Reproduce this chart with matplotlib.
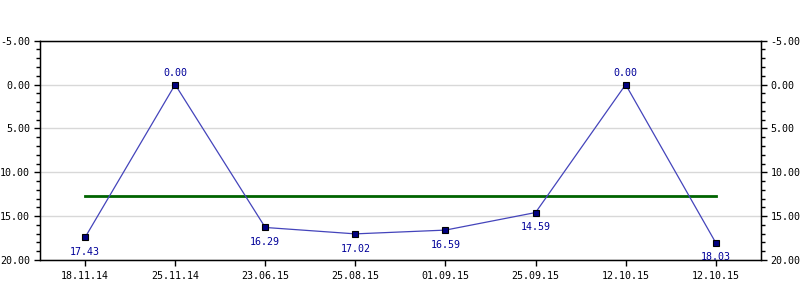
import matplotlib
matplotlib.use("Agg")
import matplotlib.pyplot as plt
from matplotlib.ticker import MultipleLocator, FormatStrFormatter

# data
dates = ["18.11.14", "25.11.14", "23.06.15", "25.08.15",
         "01.09.15", "25.09.15", "12.10.15", "12.10.15"]
values = [17.43, 0.00, 16.29, 17.02, 16.59, 14.59, 0.00, 18.03]
avg_level = 12.7

plt.rcParams['axes.unicode_minus'] = False
plt.rcParams['font.family'] = 'DejaVu Sans Mono'
plt.rcParams['font.size'] = 7.2

fig = plt.figure(figsize=(8, 3), dpi=100)
ax = fig.add_axes([0.05, 0.1333, 0.901, 0.731])

x = list(range(len(values)))
ax.plot(x, values, color='#4444bb', linewidth=0.9, zorder=3)
ax.plot(x, values, linestyle='none', marker='s', markersize=4.5,
        markerfacecolor='#000080', markeredgecolor='black',
        markeredgewidth=0.8, zorder=4)
ax.plot([x[0], x[-1]], [avg_level, avg_level], color='#006400',
        linewidth=2, zorder=2)

for xi, v in zip(x, values):
    if v == 0:
        ax.annotate(f"{v:.2f}", (xi, v), xytext=(0, 5), textcoords='offset points',
                    ha='center', va='bottom', color='#000099')
    else:
        ax.annotate(f"{v:.2f}", (xi, v), xytext=(0, -7), textcoords='offset points',
                    ha='center', va='top', color='#000099')

ax.set_xlim(-0.5, len(values) - 0.5)
ax.set_ylim(20, -5)
ax.set_xticks(x)
ax.set_xticklabels(dates)
ax.yaxis.set_major_locator(MultipleLocator(5))
ax.yaxis.set_minor_locator(MultipleLocator(1))
ax.yaxis.set_major_formatter(FormatStrFormatter('%.2f'))
ax.grid(axis='y', color='#d8d8d8', linewidth=1)
ax.set_axisbelow(True)
ax.tick_params(axis='x', which='major', length=4, width=1, pad=4)
ax.tick_params(axis='y', which='major', length=4, width=1, pad=3)
ax.tick_params(axis='y', which='minor', length=3, width=1)
for s in ax.spines.values():
    s.set_linewidth(1)

ax2 = ax.twinx()
ax2.set_ylim(20, -5)
ax2.yaxis.set_major_locator(MultipleLocator(5))
ax2.yaxis.set_minor_locator(MultipleLocator(1))
ax2.yaxis.set_major_formatter(FormatStrFormatter('%.2f'))
ax2.tick_params(axis='y', which='major', length=4, width=1, pad=3)
ax2.tick_params(axis='y', which='minor', length=3, width=1)

fig.savefig("out.png", dpi=100)
